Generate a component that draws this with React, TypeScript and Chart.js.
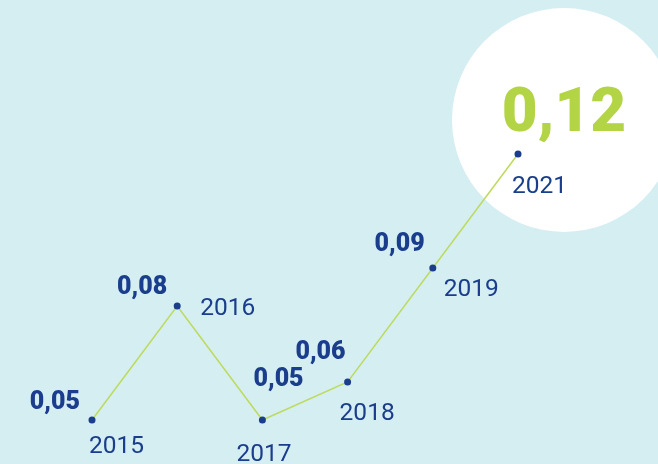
import React, { useEffect, useRef } from "react";
import { Chart, registerables } from "chart.js";

Chart.register(...registerables);

const years = ["2015", "2016", "2017", "2018", "2019", "2021"];
const values = [0.05, 0.08, 0.05, 0.06, 0.09, 0.12];
const valueLabels = ["0,05", "0,08", "0,05", "0,06", "0,09", "0,12"];

// label placement relative to each point (layout only)
const valueOffsets = [
  { dx: -12, dy: -17, align: "right" },
  { dx: -10, dy: -18, align: "right" },
  { dx: -9, dy: -40, align: "left" },
  { dx: -2, dy: -29, align: "right" },
  { dx: -8, dy: -23, align: "right" },
];
const yearOffsets = [
  { dx: -3, dy: 27, align: "left" },
  { dx: 23, dy: 3, align: "left" },
  { dx: -26, dy: 35, align: "left" },
  { dx: -8, dy: 32, align: "left" },
  { dx: 11, dy: 22, align: "left" },
  { dx: -6, dy: 33, align: "left" },
];

const BG = "#d5eef2";
const NAVY = "#1a3d8c";
const GREEN = "#b3d445";
const LINE = "#bddb5c";

const decorPlugin = {
  id: "decor",
  beforeDraw(chart: any) {
    const ctx = chart.ctx;
    ctx.save();
    ctx.fillStyle = BG;
    ctx.fillRect(0, 0, chart.width, chart.height);
    const meta = chart.getDatasetMeta(0);
    const last = meta.data[meta.data.length - 1];
    ctx.fillStyle = "#ffffff";
    ctx.beginPath();
    ctx.arc(last.x + 46, last.y - 34, 112, 0, Math.PI * 2);
    ctx.fill();
    ctx.restore();
  },
  afterDraw(chart: any) {
    const ctx = chart.ctx;
    const meta = chart.getDatasetMeta(0);
    ctx.save();
    ctx.textBaseline = "middle";
    meta.data.forEach((pt: any, i: number) => {
      if (i < valueOffsets.length) {
        const o = valueOffsets[i];
        ctx.font = "900 25px Roboto";
        ctx.fillStyle = NAVY;
        ctx.textAlign = o.align;
        ctx.fillText(valueLabels[i], pt.x + o.dx, pt.y + o.dy);
      }
      const y = yearOffsets[i];
      ctx.font = "24.5px Roboto";
      ctx.fillStyle = NAVY;
      ctx.textAlign = y.align;
      ctx.fillText(years[i], pt.x + y.dx, pt.y + y.dy);
    });
    const last = meta.data[meta.data.length - 1];
    ctx.font = "900 62px Roboto";
    ctx.fillStyle = GREEN;
    ctx.textAlign = "center";
    ctx.fillText(valueLabels[valueLabels.length - 1], last.x + 46, last.y - 39);
    ctx.restore();
  },
};

export default function App() {
  const ref = useRef<HTMLCanvasElement>(null);
  useEffect(() => {
    document.body.style.margin = "0";
    const chart = new Chart(ref.current!, {
      type: "line",
      data: {
        labels: years,
        datasets: [
          {
            data: values,
            borderColor: LINE,
            borderWidth: 1.5,
            pointRadius: 3.5,
            pointBackgroundColor: NAVY,
            pointBorderColor: NAVY,
            pointBorderWidth: 0,
            clip: false as any,
            tension: 0,
          },
        ],
      },
      options: {
        animation: false,
        responsive: false,
        layout: { padding: { left: 92, right: 140, top: 154, bottom: 44 } },
        plugins: { legend: { display: false }, tooltip: { enabled: false } },
        scales: {
          x: { display: false, offset: false },
          y: { display: false, min: 0.05, max: 0.12 },
        },
      },
      plugins: [decorPlugin],
    });
    return () => chart.destroy();
  }, []);
  return (
    <div style={{ width: 658, height: 464 }}>
      <canvas ref={ref} width={658} height={464} />
    </div>
  );
}
